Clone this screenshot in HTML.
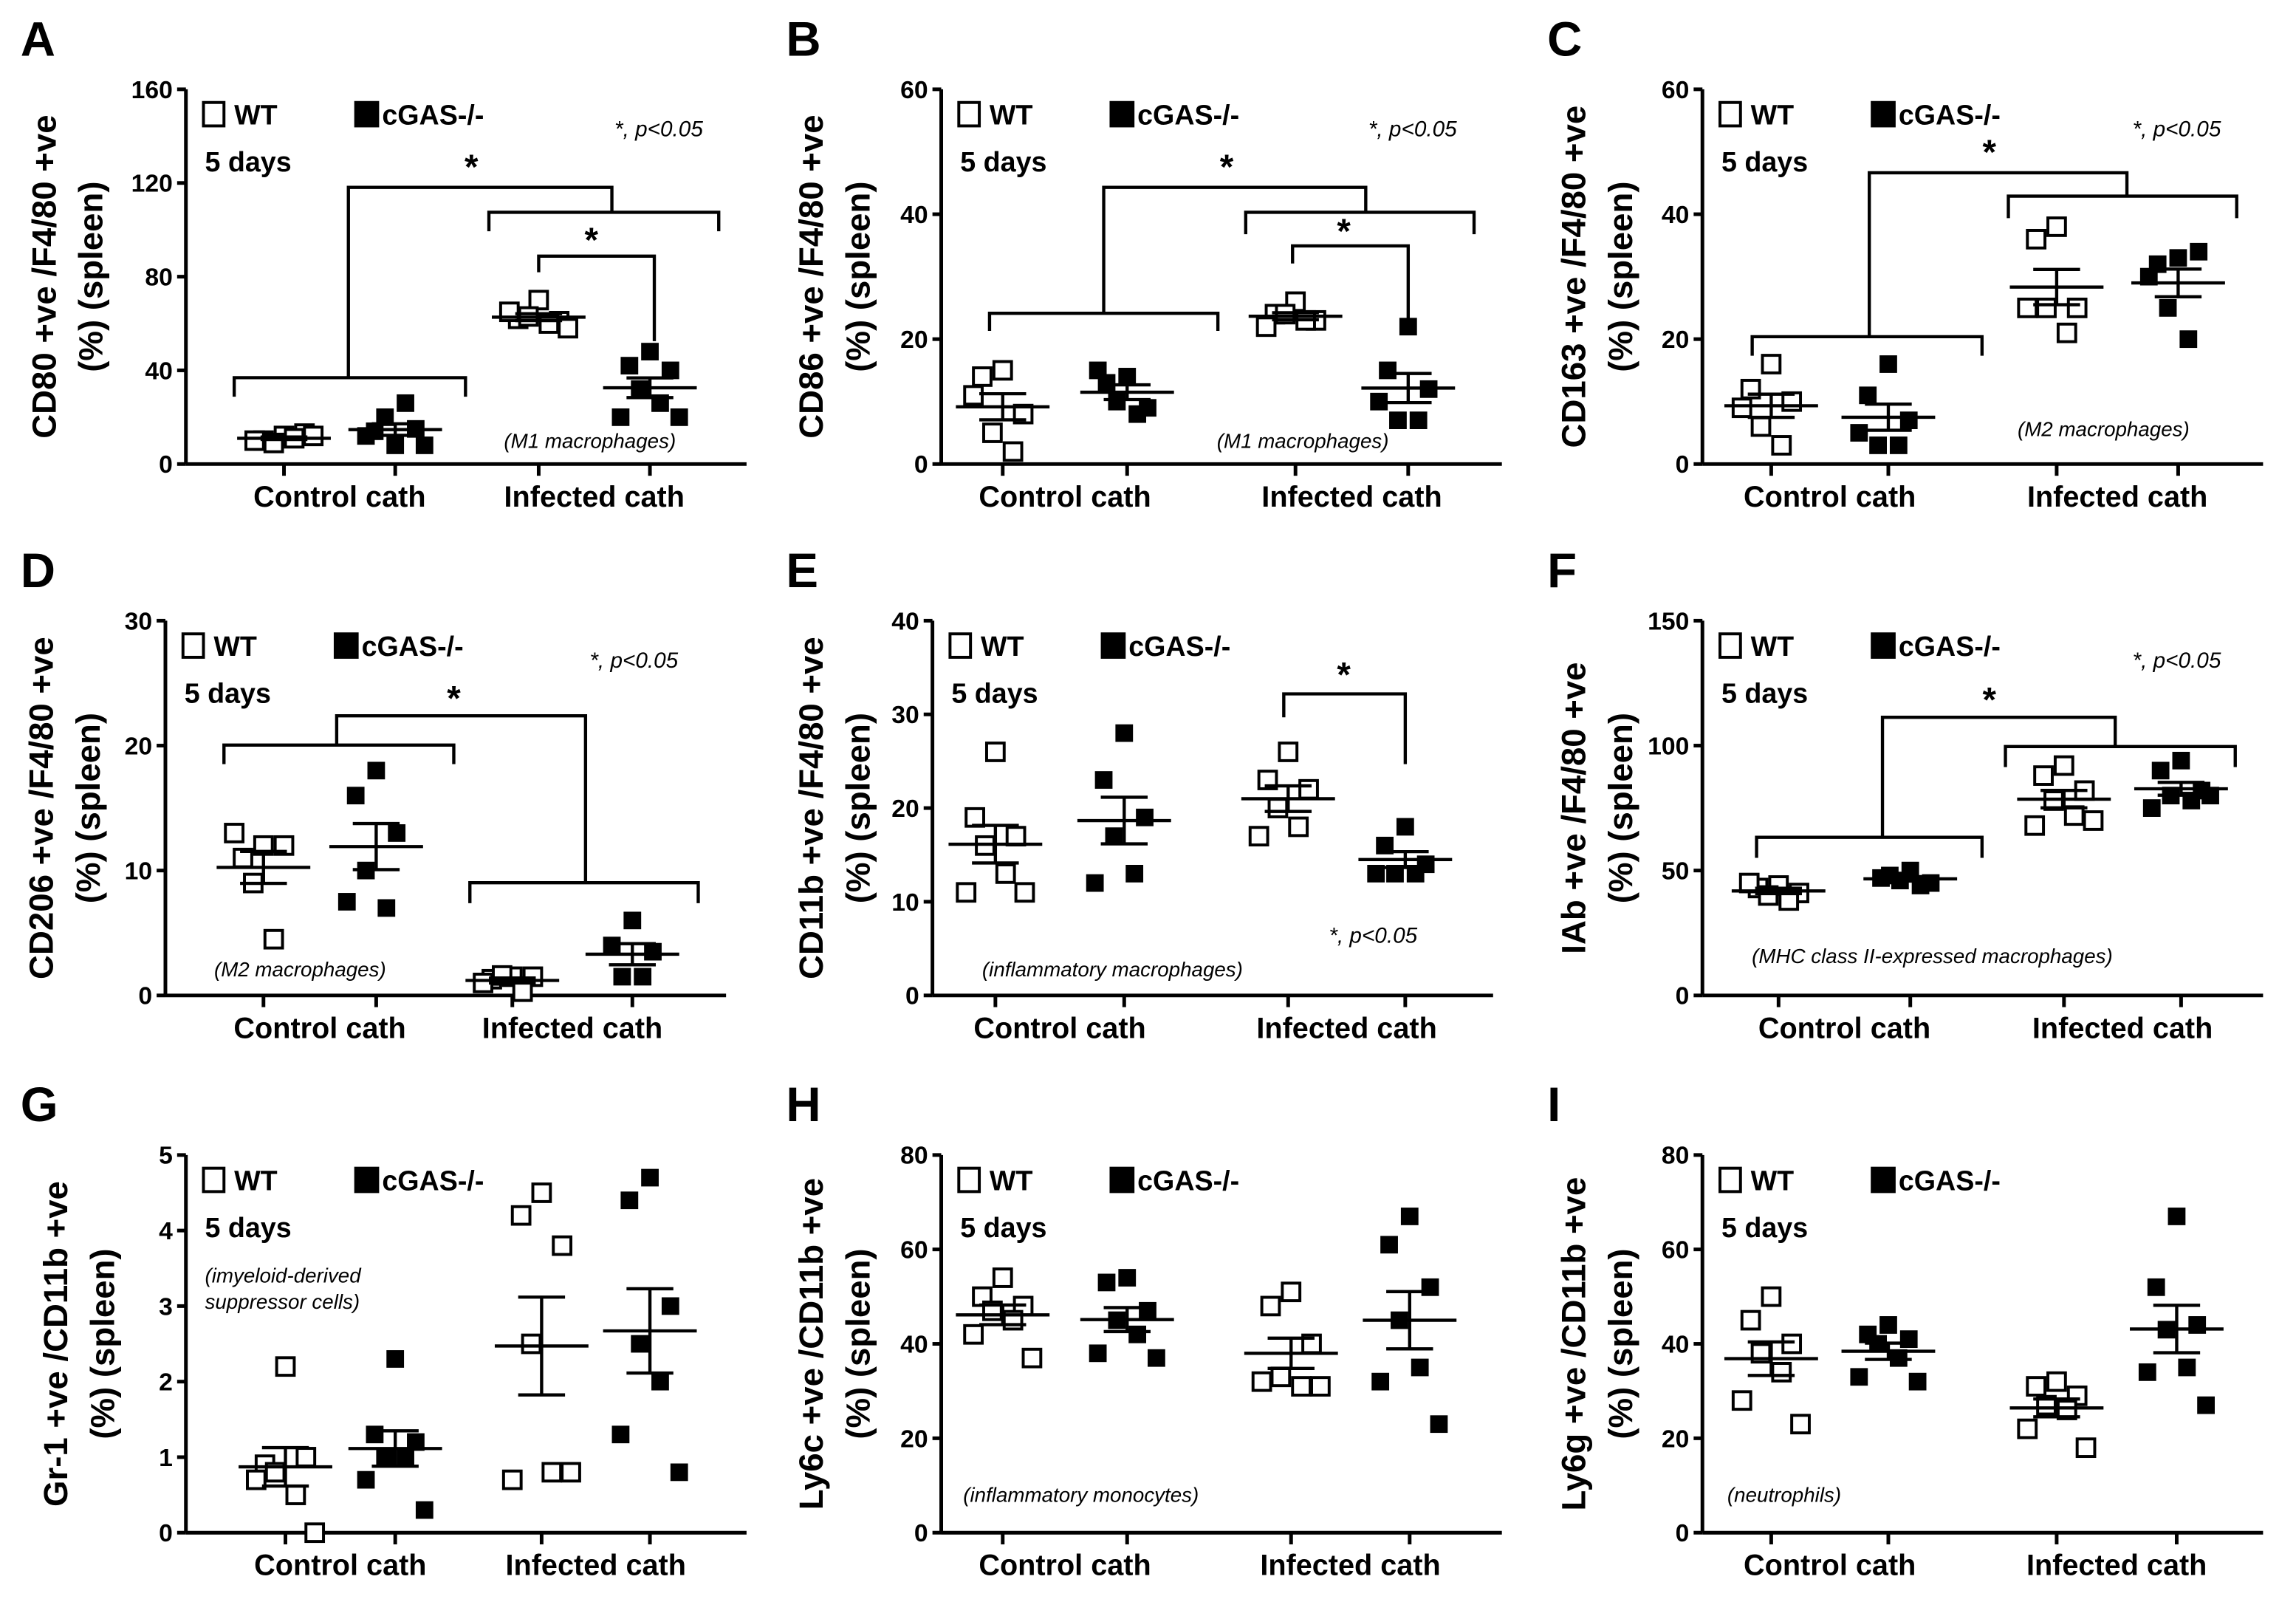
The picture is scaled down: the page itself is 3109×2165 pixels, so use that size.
<!DOCTYPE html>
<html><head><meta charset="utf-8"><style>
html,body{margin:0;padding:0;background:#fff}
svg{display:block}
text{font-family:"Liberation Sans Narrow","Liberation Sans",sans-serif;fill:#000}
.b{font-weight:bold}
</style></head><body>
<svg id="fig" xmlns="http://www.w3.org/2000/svg" width="3109" height="2165" viewBox="0 0 1568.5 1092.3" preserveAspectRatio="none"></svg>
<script>
// ---- data (values per group: WT control, cGAS control, WT infected, cGAS infected)
const groupNames = ["WT control", "cGAS control", "WT infected", "cGAS infected"];
const A_values = [[12,10,13,9,11,10,12],[8,14,15,20,26,12,8],[70,62,61,63,60,65,58],[48,42,40,32,26,20,20]];
const B_values = [[15,14,8,5,2,11],[14,13,9,10,8,15],[26,24,23,24,23,22],[22,15,12,7,7,10]];
const C_values = [[16,12,10,6,3,9],[16,11,7,3,3,5],[38,36,25,25,21,25],[33,32,34,25,20,30]];
const D_values = [[12,11,12,9,4.5,13],[18,16,13,10,7,7.5],[1.5,1.3,1.5,1.6,0.3,1],[6,4,3.5,1.5,1.5]];
const E_values = [[26,19,17,16,13,11,11],[28,23,19,17,13,12],[26,23,22,20,18,17],[18,16,14,13,13,13]];
const F_values = [[44,43,41,40,38,45],[50,48,45,46,44,47],[92,88,82,78,72,68,70],[94,90,82,80,78,75,80]];
const G_values = [[2.2,0.9,1.0,0.8,0.5,0.7,0],[2.3,1.3,1.2,1.0,1.0,0.7,0.3],[4.5,4.2,3.8,2.5,0.8,0.7,0.8],[4.7,4.4,3.0,2.5,2.0,1.3,0.8]];
const H_values = [[54,50,48,47,45,42,37],[54,53,47,45,42,38,37],[51,48,40,33,31,32,31],[67,61,52,45,35,32,23]];
const I_values = [[50,45,40,38,34,28,23],[44,42,41,40,37,33,32],[32,31,29,27,26,22,18],[67,52,44,43,35,34,27]];
const A_ticks=[0,40,80,120,160], B_ticks=[0,20,40,60], C_ticks=[0,20,40,60];
const D_ticks=[0,10,20,30], E_ticks=[0,10,20,30,40], F_ticks=[0,50,100,150];
const G_ticks=[0,1,2,3,4,5], H_ticks=[0,20,40,60,80], I_ticks=[0,20,40,60,80];
const xCategories=["Control cath","Infected cath"];

const NS="http://www.w3.org/2000/svg";
const svg=document.getElementById('fig');
function mk(tag,attrs,parent){const e=document.createElementNS(NS,tag);for(const k in attrs)e.setAttribute(k,attrs[k]);(parent||svg).appendChild(e);return e;}
function txt(s,attrs,parent){const e=mk('text',attrs,parent);e.textContent=s;return e;}

const panels=[
 {id:'A',vals:A_values,ticks:A_ticks,ax:127,y0:317,top:61,gx:[194,270,368,444],ylab:["CD80 +ve /F4/80 +ve","(%) (spleen)"],lx:[38,70],note:"(M1 macrophages)",nx:403,ny:306,na:'middle',pv:[450,93],lxp:14},
 {id:'B',vals:B_values,ticks:B_ticks,ax:643,y0:317,top:61,gx:[685,770,885,962],ylab:["CD86 +ve /F4/80 +ve","(%) (spleen)"],lx:[562,594],note:"(M1 macrophages)",nx:890,ny:306,na:'middle',pv:[965,93],lxp:537},
 {id:'C',vals:C_values,ticks:C_ticks,ax:1163,y0:317,top:61,gx:[1210,1290,1405,1488],ylab:["CD163 +ve /F4/80 +ve","(%) (spleen)"],lx:[1083,1115],note:"(M2 macrophages)",nx:1437,ny:298,na:'middle',pv:[1487,93],lxp:1057},
 {id:'D',vals:D_values,ticks:D_ticks,ax:113,y0:680,top:424,gx:[180,257,350,432],ylab:["CD206 +ve /F4/80 +ve","(%) (spleen)"],lx:[36,68],note:"(M2 macrophages)",nx:205,ny:667,na:'middle',pv:[433,456],lxp:14},
 {id:'E',vals:E_values,ticks:E_ticks,ax:637,y0:680,top:424,gx:[680,768,880,960],ylab:["CD11b +ve /F4/80 +ve","(%) (spleen)"],lx:[562,594],note:"(inflammatory macrophages)",nx:760,ny:667,na:'middle',pv:[938,644],lxp:537},
 {id:'F',vals:F_values,ticks:F_ticks,ax:1163,y0:680,top:424,gx:[1215,1305,1410,1490],ylab:["IAb +ve /F4/80 +ve","(%) (spleen)"],lx:[1083,1115],note:"(MHC class II-expressed macrophages)",nx:1320,ny:658,na:'middle',pv:[1487,456],lxp:1057},
 {id:'G',vals:G_values,ticks:G_ticks,ax:127,y0:1047,top:789,gx:[195,270,370,444],ylab:["Gr-1 +ve /CD11b +ve","(%) (spleen)"],lx:[46,78],note:null,lxp:14},
 {id:'H',vals:H_values,ticks:H_ticks,ax:643,y0:1047,top:789,gx:[685,770,882,963],ylab:["Ly6c +ve /CD11b +ve","(%) (spleen)"],lx:[562,594],note:"(inflammatory monocytes)",nx:658,ny:1026,na:'start',lxp:537},
 {id:'I',vals:I_values,ticks:I_ticks,ax:1163,y0:1047,top:789,gx:[1210,1290,1405,1487],ylab:["Ly6g +ve /CD11b +ve","(%) (spleen)"],lx:[1083,1115],note:"(neutrophils)",nx:1180,ny:1026,na:'start',lxp:1057}
];
const jit=[0,-14,14,-7,7,-20,20,-3];

panels.forEach(p=>{
  const g=mk('g',{});
  
  
  const ymax=p.ticks[p.ticks.length-1];
  const Y=v=>p.y0-(v/ymax)*(p.y0-p.top);
  const L=txt(p.id,{x:p.lxp,y:p.top-23,'font-size':33,class:'b','font-family':'Liberation Sans'},g);
  
  
  const ya=mk('line',{x1:p.ax,y1:p.top,x2:p.ax,y2:p.y0,stroke:'#000','stroke-width':2.5},g);
  
  const xa=mk('line',{x1:p.ax,y1:p.y0,x2:p.ax+383,y2:p.y0,stroke:'#000','stroke-width':2.5},g);
  
  p.ticks.forEach(t=>{
    mk('line',{x1:p.ax-6,y1:Y(t),x2:p.ax,y2:Y(t),stroke:'#000','stroke-width':2.5},g);
    const tl=txt(String(t),{x:p.ax-9,y:Y(t)+6,'font-size':17,class:'b','text-anchor':'end'},g);
    
  });
  p.gx.forEach(x=>mk('line',{x1:x,y1:p.y0,x2:x,y2:p.y0+8,stroke:'#000','stroke-width':2.5},g));
  xCategories.forEach((c,i)=>{
    const cx=(p.gx[2*i]+p.gx[2*i+1])/2;
    const xl=txt(c,{x:cx,y:p.y0+29,'font-size':20,class:'b','text-anchor':'middle'},g);
    
  });
  const cy=(p.top+p.y0)/2;
  p.ylab.forEach((s,i)=>{
    const t=txt(s,{x:p.lx[i],y:cy,'font-size':23,class:'b','text-anchor':'middle','font-family':'Liberation Sans',transform:`rotate(-90 ${p.lx[i]} ${cy})`},g);
    
  });
  const lg=mk('g',{},g);
  
  mk('rect',{x:p.ax+12,y:p.top+9,width:14,height:16,fill:'#fff',stroke:'#000','stroke-width':2},lg);
  txt('WT',{x:p.ax+33,y:p.top+24,'font-size':19,class:'b'},lg);
  mk('rect',{x:p.ax+115,y:p.top+8,width:17,height:18,fill:'#000'},lg);
  txt('cGAS-/-',{x:p.ax+134,y:p.top+24,'font-size':19,class:'b'},lg);
  txt('5 days',{x:p.ax+13,y:p.top+56,'font-size':19,class:'b'},lg);
  if(p.pv){const pv=txt('*, p<0.05',{x:p.pv[0],y:p.pv[1],'font-size':15,'font-style':'italic','text-anchor':'middle'},g);
    }
  if(p.note){const n=txt(p.note,{x:p.nx,y:p.ny,'font-size':14,'font-style':'italic','text-anchor':p.na},g);
    }
  if(p.id==='G'){
    const n1=txt('(imyeloid-derived',{x:140,y:876,'font-size':14,'font-style':'italic'},g);
    
    const n2=txt('suppressor cells)',{x:140,y:894,'font-size':14,'font-style':'italic'},g);
    
  }
  p.vals.forEach((arr,gi)=>{
    const sg=mk('g',{},g);
    
    
    const filled=gi%2===1;
    const x0=p.gx[gi];
    arr.forEach((v,i)=>{
      const r=mk('rect',{x:x0+jit[i%jit.length]-6,y:Y(v)-6,width:12,height:12,fill:filled?'#000':'#fff',stroke:'#000','stroke-width':filled?0:2},sg);
      
    });
    const n=arr.length,m=arr.reduce((a,b)=>a+b,0)/n;
    const sd=Math.sqrt(arr.reduce((a,b)=>a+(b-m)*(b-m),0)/(n-1)),se=sd/Math.sqrt(n);
    const ml=mk('line',{x1:x0-32,x2:x0+32,y1:Y(m),y2:Y(m),stroke:'#000','stroke-width':2.2},sg);
    
    const eb=mk('path',{d:`M${x0} ${Y(m+se)}V${Y(m-se)}M${x0-16} ${Y(m+se)}H${x0+16}M${x0-16} ${Y(m-se)}H${x0+16}`,stroke:'#000','stroke-width':2.2,fill:'none'},sg);
    
  });
});

const brackets=[
 "M160 271V258H318V271M238 258V128H418V145M334 158V145H491V158M368 186V175H447V233",
 "M676 226V214H832V226M754 214V128H933V145M851 160V145H1007V160M883 180V168H962V225",
 "M1197 243V230H1354V243M1277 230V118H1453V134M1372 149V134H1528V149",
 "M153 522V509H310V522M230 509V489H400V603M321 617V603H477V617",
 "M877 490V474H960V522",
 "M1200 586V572H1354V586M1286 572V490H1445V510M1370 524V510H1527V524"
];
brackets.forEach(d=>{
  const b=mk('path',{d:d,stroke:'#000','stroke-width':2.2,fill:'none'});
  
  
});
[[322,122],[404,172],[838,122],[918,166],[1359,112],[310,485],[918,469],[1359,486]].forEach(s=>{
  const t=txt('*',{x:s[0],y:s[1],'font-size':24,class:'b','text-anchor':'middle','font-family':'Liberation Sans'});
  
  
});
</script>
</body></html>
